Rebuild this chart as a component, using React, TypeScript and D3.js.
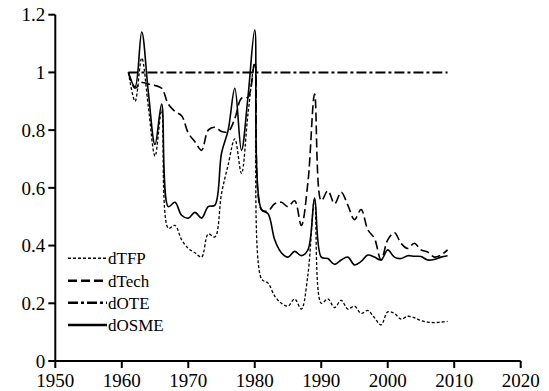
import React from "react";
import * as d3 from "d3";

const years: number[] = d3.range(1961, 2010);

const dTFP: number[] = [
  1.0, 0.9, 1.05, 0.88, 0.71, 0.87, 0.46, 0.47, 0.42, 0.39,
  0.375, 0.36, 0.44, 0.43, 0.58, 0.68, 0.77, 0.65, 0.86, 1.03,
  0.285, 0.27, 0.225, 0.2, 0.19, 0.215, 0.18, 0.3, 0.56, 0.2,
  0.215, 0.185, 0.21, 0.18, 0.19, 0.165, 0.175, 0.15, 0.125, 0.17,
  0.165, 0.145, 0.155, 0.15, 0.14, 0.135, 0.133, 0.135, 0.137,
];

const dTech: number[] = [
  1.0, 0.945, 0.965, 0.96, 0.955, 0.945, 0.89, 0.865, 0.85, 0.79,
  0.76, 0.73, 0.8, 0.81, 0.795, 0.795, 0.84, 0.91, 0.915, 1.035,
  0.525, 0.52, 0.545, 0.55, 0.535, 0.555, 0.47, 0.62, 0.925, 0.555,
  0.59, 0.545, 0.585, 0.54, 0.49, 0.525, 0.455, 0.425, 0.35, 0.42,
  0.445, 0.408, 0.39, 0.408, 0.385, 0.378, 0.36, 0.367, 0.385,
];

const dOTE: number[] = years.map(() => 1.0);

const dOSME: number[] = [
  1.0, 0.95, 1.14, 0.93, 0.75, 0.89, 0.535, 0.55, 0.505, 0.495,
  0.515, 0.495, 0.535, 0.54, 0.72, 0.8, 0.945, 0.73, 0.92, 1.147,
  0.525, 0.51, 0.42, 0.375, 0.36, 0.38, 0.365, 0.385, 0.565, 0.36,
  0.355, 0.335, 0.35, 0.36, 0.333, 0.345, 0.367, 0.36, 0.35, 0.385,
  0.36, 0.355, 0.365, 0.363, 0.362, 0.35, 0.352, 0.36, 0.365,
];

const xTicks: number[] = [1950, 1960, 1970, 1980, 1990, 2000, 2010, 2020];
const yTicks: number[] = [0, 0.2, 0.4, 0.6, 0.8, 1, 1.2];

const seriesNames: string[] = ["dTFP", "dTech", "dOTE", "dOSME"];
const seriesData: number[][] = [dTFP, dTech, dOTE, dOSME];

const styles = [
  { dash: "3,2", width: 1.3 },
  { dash: "9,4", width: 1.6 },
  { dash: "10,3,3,3", width: 2 },
  { dash: "", width: 1.6 },
];

const W = 549;
const H = 391;
const FONT = "Liberation Serif";

export default function App() {
  const x = d3.scaleLinear().domain([1950, 2020]).range([55.3, 520.7]);
  const y = d3.scaleLinear().domain([0, 1.2]).range([361, 14.7]);

  const line = d3
    .line<number>()
    .x((_, i) => x(years[i]))
    .y((d) => y(d))
    .curve(d3.curveCatmullRom);

  const legendX0 = 68;
  const legendX1 = 107;
  const legendY = [258.3, 280.7, 302.7, 325];

  const tickText = { fontFamily: FONT, fontSize: "19px" };
  const legendText = { fontFamily: FONT, fontSize: "17px" };

  return (
    <svg
      width={W}
      height={H}
      style={{ position: "absolute", left: 0, top: 0, background: "#fff" }}
    >
      <rect x={0} y={0} width={W} height={H} fill="#fff" />
      {seriesData.map((s, k) => (
        <path
          key={seriesNames[k]}
          d={line(s) || ""}
          fill="none"
          stroke="#000"
          strokeWidth={styles[k].width}
          strokeDasharray={styles[k].dash || undefined}
        />
      ))}
      <line x1={x(1950)} x2={x(1950)} y1={y(1.2)} y2={y(0)} stroke="#000" strokeWidth={2} />
      <line x1={x(1950)} x2={x(2020)} y1={y(0)} y2={y(0)} stroke="#000" strokeWidth={2} />
      {yTicks.map((t) => (
        <g key={"y" + t}>
          <line x1={x(1950) - 7} x2={x(1950)} y1={y(t)} y2={y(t)} stroke="#000" strokeWidth={2} />
          <text
            x={x(1950) - 10}
            y={y(t)}
            dy="0.35em"
            textAnchor="end"
            style={tickText}
            fill="#000"
          >
            {String(t)}
          </text>
        </g>
      ))}
      {xTicks.map((t) => (
        <g key={"x" + t}>
          <line x1={x(t)} x2={x(t)} y1={y(0)} y2={y(0) + 7} stroke="#000" strokeWidth={2} />
          <text x={x(t)} y={387} textAnchor="middle" style={tickText} fill="#000">
            {String(t)}
          </text>
        </g>
      ))}
      {seriesNames.map((n, k) => (
        <g key={"lg" + n}>
          <line
            x1={legendX0}
            x2={legendX1}
            y1={legendY[k]}
            y2={legendY[k]}
            stroke="#000"
            strokeWidth={k === 0 ? 1.5 : 2.5}
            strokeDasharray={styles[k].dash || undefined}
          />
          <text x={legendX1 + 1} y={legendY[k] + 6} style={legendText} fill="#000">
            {n}
          </text>
        </g>
      ))}
    </svg>
  );
}
